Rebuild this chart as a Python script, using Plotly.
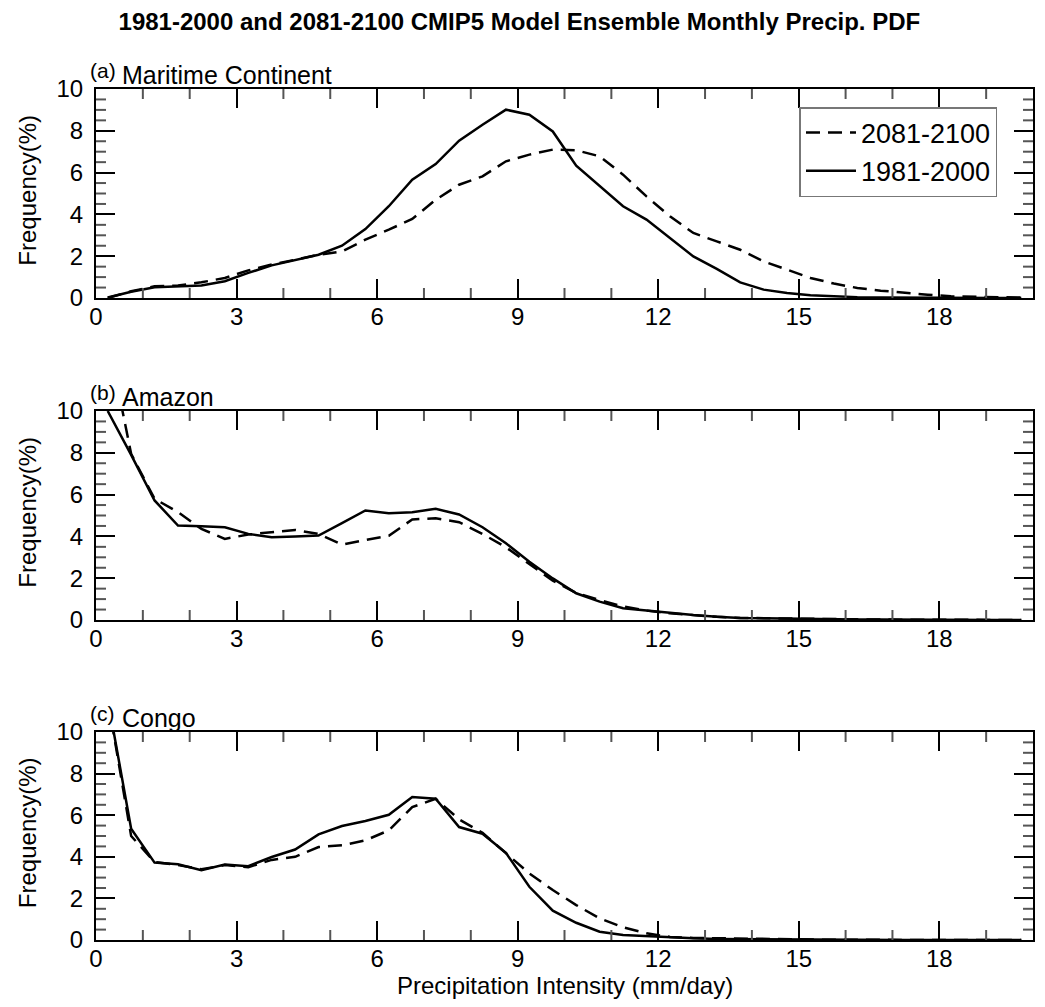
import plotly.graph_objects as go

# Bin centres (mm/day)
bins = [0.25, 0.75, 1.25, 1.75, 2.25, 2.75, 3.25, 3.75, 4.25, 4.75,
        5.25, 5.75, 6.25, 6.75, 7.25, 7.75, 8.25, 8.75, 9.25, 9.75,
        10.25, 10.75, 11.25, 11.75, 12.25, 12.75, 13.25, 13.75, 14.25, 14.75,
        15.25, 15.75, 16.25, 16.75, 17.25, 17.75, 18.25, 18.75, 19.25, 19.75]

# (a) Maritime Continent
mc_hist = [0.02, 0.30, 0.51, 0.56, 0.60, 0.80, 1.20, 1.56, 1.83, 2.07,
           2.50, 3.30, 4.39, 5.66, 6.41, 7.53, 8.29, 9.01, 8.77, 7.97,
           6.33, 5.34, 4.39, 3.75, 2.87, 1.99, 1.39, 0.75, 0.40, 0.24,
           0.13, 0.07, 0.04, 0.02, 0.01, 0.01, 0.00, 0.00, 0.00, 0.00]
mc_fut = [0.00, 0.32, 0.56, 0.60, 0.75, 0.96, 1.32, 1.60, 1.83, 2.07,
          2.23, 2.79, 3.27, 3.78, 4.70, 5.42, 5.82, 6.54, 6.86, 7.10,
          7.07, 6.78, 5.90, 4.86, 3.91, 3.11, 2.71, 2.31, 1.75, 1.36,
          0.96, 0.69, 0.48, 0.35, 0.24, 0.16, 0.08, 0.05, 0.03, 0.02]

# (b) Amazon
am_hist = [10.0, 7.90, 5.72, 4.52, 4.49, 4.44, 4.12, 3.96, 4.00, 4.04,
           4.63, 5.24, 5.11, 5.16, 5.32, 5.05, 4.44, 3.67, 2.79, 1.99,
           1.28, 0.88, 0.56, 0.45, 0.32, 0.24, 0.16, 0.10, 0.08, 0.06,
           0.04, 0.03, 0.02, 0.02, 0.01, 0.01, 0.01, 0.00, 0.00, 0.00]
am_fut = [13.5, 7.95, 5.80, 5.16, 4.36, 3.88, 4.09, 4.20, 4.31, 4.12,
          3.61, 3.83, 4.03, 4.81, 4.87, 4.68, 4.12, 3.48, 2.68, 1.88,
          1.30, 0.95, 0.65, 0.45, 0.32, 0.22, 0.15, 0.10, 0.08, 0.06,
          0.05, 0.04, 0.03, 0.02, 0.02, 0.01, 0.01, 0.01, 0.00, 0.00]

# (c) Congo
co_hist = [11.6, 5.35, 3.72, 3.64, 3.35, 3.63, 3.55, 3.99, 4.35, 5.08,
           5.48, 5.72, 6.02, 6.87, 6.79, 5.43, 5.11, 4.19, 2.56, 1.41,
           0.83, 0.40, 0.24, 0.19, 0.11, 0.08, 0.05, 0.04, 0.03, 0.02,
           0.02, 0.01, 0.01, 0.00, 0.00, 0.00, 0.00, 0.00, 0.00, 0.00]
co_fut = [11.6, 5.00, 3.75, 3.60, 3.40, 3.60, 3.50, 3.85, 4.00, 4.47,
          4.55, 4.79, 5.27, 6.39, 6.79, 5.80, 5.15, 4.17, 3.20, 2.40,
          1.68, 1.04, 0.61, 0.32, 0.15, 0.10, 0.08, 0.06, 0.04, 0.02,
          0.02, 0.01, 0.01, 0.00, 0.00, 0.00, 0.00, 0.00, 0.00, 0.00]

panel_tags = ["(a)", "(b)", "(c)"]
panel_names = ["Maritime Continent", "Amazon", "Congo"]
series_names = ["2081-2100", "1981-2000"]

# minor tick positions (axis decoration)
x_minor = [1, 2, 4, 5, 7, 8, 10, 11, 13, 14, 16, 17, 19]
y_minor = [0.5, 1, 1.5, 2.5, 3, 3.5, 4.5, 5, 5.5, 6.5, 7, 7.5, 8.5, 9, 9.5]

FONT = "Liberation Sans, Arial, Helvetica, sans-serif"

W, H = 1045, 1007
ML, MR, MT, MB = 96, 10, 89, 67
PH = H - MT - MB  # plot height in px


def py(px):
    """pixel y (from top) -> paper fraction"""
    return (H - MB - px) / PH


def pxx(px):
    return (px - ML) / (W - ML - MR)


panel_tops = [89, 411, 732]
panel_bots = [298, 620, 940]

fig = go.Figure()

data = [(mc_fut, mc_hist), (am_fut, am_hist), (co_fut, co_hist)]
for i, (fut, hist) in enumerate(data):
    xa = "x" if i == 0 else f"x{i+1}"
    ya = "y" if i == 0 else f"y{i+1}"
    fig.add_trace(go.Scatter(
        x=bins, y=fut, mode="lines", name=series_names[0],
        line=dict(color="black", width=2.5, dash="14px,8px"),
        xaxis=xa, yaxis=ya, showlegend=(i == 0)))
    fig.add_trace(go.Scatter(
        x=bins, y=hist, mode="lines", name=series_names[1],
        line=dict(color="black", width=2.5),
        xaxis=xa, yaxis=ya, showlegend=(i == 0)))

layout = dict(
    width=W, height=H,
    margin=dict(l=ML, r=MR, t=MT, b=MB),
    paper_bgcolor="white", plot_bgcolor="white",
    font=dict(family=FONT, color="black", size=24),
    title=dict(text="<b>1981-2000 and 2081-2100 CMIP5 Model Ensemble Monthly Precip. PDF</b>",
               x=0.497, xref="container", xanchor="center",
               y=1 - 22 / H, yref="container", yanchor="middle",
               font=dict(size=24, family=FONT, color="black")),
    legend=dict(x=pxx(801), y=py(107), xanchor="left", yanchor="top",
                bordercolor="#777", borderwidth=1.5, bgcolor="white",
                font=dict(size=27, family=FONT, color="black"),
                traceorder="normal", itemwidth=50, tracegroupgap=0),
    showlegend=True,
)

annotations = []
shapes = []
tick_line = dict(color="#555", width=2)
for i in range(3):
    suffix = "" if i == 0 else str(i + 1)
    dom = [py(panel_bots[i]), py(panel_tops[i])]
    layout["xaxis" + suffix] = dict(
        domain=[0, 1], anchor="y" + suffix, range=[0, 20],
        dtick=3,
        ticks="inside", ticklen=19, tickwidth=2, tickcolor="black",
        showline=True, linecolor="black", linewidth=2, mirror="allticks",
        showgrid=False, zeroline=False,
        tickfont=dict(size=24, family=FONT, color="black"),
        ticklabelstandoff=-4,
    )
    layout["yaxis" + suffix] = dict(
        domain=dom, anchor="x" + suffix, range=[0, 10],
        dtick=2,
        ticks="inside", ticklen=19, tickwidth=2, tickcolor="black",
        showline=True, linecolor="black", linewidth=2, mirror="allticks",
        showgrid=False, zeroline=False,
        tickfont=dict(size=24, family=FONT, color="black"),
        ticklabelstandoff=6,
    )
    xr = "x" + suffix
    yr = "y" + suffix
    # short minor ticks on bottom and top edges
    for v in x_minor:
        shapes.append(dict(type="line", xref=xr, yref=yr + " domain",
                           x0=v, x1=v, ysizemode="pixel", yanchor=0,
                           y0=0, y1=10, line=tick_line))
        shapes.append(dict(type="line", xref=xr, yref=yr + " domain",
                           x0=v, x1=v, ysizemode="pixel", yanchor=1,
                           y0=0, y1=-10, line=tick_line))
    # short minor ticks on left and right edges
    for v in y_minor:
        shapes.append(dict(type="line", xref=xr + " domain", yref=yr,
                           y0=v, y1=v, xsizemode="pixel", xanchor=0,
                           x0=0, x1=10, line=tick_line))
        shapes.append(dict(type="line", xref=xr + " domain", yref=yr,
                           y0=v, y1=v, xsizemode="pixel", xanchor=1,
                           x0=0, x1=-10, line=tick_line))
    # y-axis title
    annotations.append(dict(
        text="Frequency(%)", xref="paper", yref="paper",
        x=pxx(27), y=py((panel_tops[i] + panel_bots[i]) / 2 - 3),
        xanchor="center", yanchor="middle", textangle=-90, showarrow=False,
        font=dict(size=24, family=FONT, color="black")))
    # panel tag and name
    annotations.append(dict(
        text=panel_tags[i], xref="paper", yref="paper",
        x=pxx(88), y=py(panel_tops[i] - 19),
        xanchor="left", yanchor="middle", showarrow=False,
        font=dict(size=21, family=FONT, color="black")))
    annotations.append(dict(
        text=panel_names[i], xref="paper", yref="paper",
        x=pxx(120), y=py(panel_tops[i] - 14),
        xanchor="left", yanchor="middle", showarrow=False,
        font=dict(size=25, family=FONT, color="black")))

annotations.append(dict(
    text="Precipitation Intensity (mm/day)", xref="paper", yref="paper",
    x=pxx(566), y=py(985), xanchor="center", yanchor="middle", showarrow=False,
    font=dict(size=24, family=FONT, color="black")))

layout["annotations"] = annotations
layout["shapes"] = shapes
fig.update_layout(**layout)

fig.write_html("out.html")
